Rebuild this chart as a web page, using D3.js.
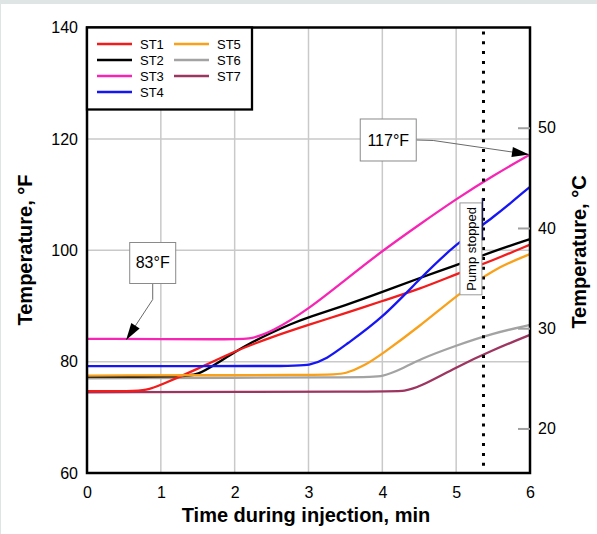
<!DOCTYPE html>
<html>
<head>
<meta charset="utf-8">
<script src="https://cdn.jsdelivr.net/npm/d3@7"></script>
<style>
  html, body { margin: 0; padding: 0; background: #dfe5e5; }
  svg { display: block; font-family: "Liberation Sans", Arial, sans-serif; }
</style>
</head>
<body>
<div id="my_dataviz"></div>
<script>
(function() {

const width = 597,
height = 534;

// temperatures in °F vs time in min
const st1 = [[0,74.7],[0.6,74.7],[0.8,74.8],[1,75.8],[1.5,78.7],[2,81.9],[2.5,84.4],[3,86.6],[3.5,88.7],[4,90.9],[4.5,93.0],[5,95.7],[5.5,98.2],[6,101.0]];
const st2 = [[0,77.3],[1.3,77.3],[1.5,77.6],[1.75,79.6],[2,81.7],[2.25,83.6],[2.5,85.2],[2.75,86.7],[3,88.0],[3.5,90.1],[4,92.5],[4.5,95.0],[5,97.3],[5.5,99.8],[6,102.0]];
const st3 = [[0,84.1],[2.0,84.0],[2.2,84.0],[2.5,85.3],[3,89.4],[3.5,94.7],[4,99.9],[4.5,104.6],[5,109.2],[5.5,113.4],[6,117.2]];
const st4 = [[0,79.2],[2.8,79.2],[3,79.3],[3.25,80.5],[3.5,83.0],[4,87.8],[4.5,94.8],[5,101.2],[5.5,105.8],[6,111.4]];
const st5 = [[0,77.5],[3.3,77.6],[3.5,77.8],[3.75,79.2],[4,81.4],[4.5,86.3],[5,91.8],[5.5,96.6],[6,99.3]];
const st6 = [[0,77.0],[3.8,77.2],[4,77.3],[4.25,78.6],[4.5,80.4],[5,82.9],[5.5,85.1],[6,86.6]];
const st7 = [[0,74.5],[4.1,74.6],[4.3,74.7],[4.5,75.4],[5,79.0],[5.5,82.1],[6,84.8]];

const names = ["ST1", "ST2", "ST3", "ST4", "ST5", "ST6", "ST7"];
const colors = ["#f21c1c", "#000000", "#f725b4", "#1616f5", "#f9a11b", "#a3a3a3", "#9c355f"];
const seriesData = [st1, st2, st3, st4, st5, st6, st7];
const drawOrder = [5, 1, 6, 0, 4, 3, 2];

const xTicks = [0, 1, 2, 3, 4, 5, 6];
const yTicks = [60, 80, 100, 120, 140];
const cTicks = [20, 30, 40, 50];
const pumpStop = 5.37;

const svg = d3.select("#my_dataviz")
  .append("svg")
  .attr("width", width)
  .attr("height", height);

svg.append("rect")
  .attr("x", 1).attr("y", 4)
  .attr("width", width - 1).attr("height", height - 4)
  .attr("fill", "#fff");

const x = d3.scaleLinear().domain([0, 6]).range([87, 530]);
const y = d3.scaleLinear().domain([60, 140]).range([473, 27.5]);
const yC = d3.scaleLinear().domain([(60 - 32) * 5 / 9, (140 - 32) * 5 / 9]).range([473, 27.5]);

// grid
const grid = svg.append("g").attr("stroke", "#c9c9c9").attr("stroke-width", 1.5);
grid.selectAll(".gx")
  .data([1, 2, 3, 4, 5])
  .join("line")
  .attr("x1", d => x(d)).attr("x2", d => x(d))
  .attr("y1", y(140)).attr("y2", y(60));
grid.selectAll(".gy")
  .data([80, 100, 120])
  .join("line")
  .attr("x1", x(0)).attr("x2", x(6))
  .attr("y1", d => y(d)).attr("y2", d => y(d));

// curves
const line = d3.line()
  .x(d => x(d[0]))
  .y(d => y(d[1]))
  .curve(d3.curveBasis);

svg.append("g")
  .selectAll("path")
  .data(drawOrder)
  .join("path")
  .attr("fill", "none")
  .attr("stroke", i => colors[i])
  .attr("stroke-width", 2.3)
  .attr("d", i => line(seriesData[i]));

// pump stopped marker
svg.append("line")
  .attr("x1", x(pumpStop)).attr("x2", x(pumpStop))
  .attr("y1", y(140) + 4).attr("y2", y(60))
  .attr("stroke", "#000")
  .attr("stroke-width", 3)
  .attr("stroke-dasharray", "3,6.8");

const pumpBox = svg.append("g");
pumpBox.append("rect")
  .attr("x", x(5.2) - 11).attr("y", y(108.5))
  .attr("width", 22).attr("height", y(92) - y(108.5))
  .attr("fill", "#fff")
  .attr("stroke", "#9a9a9a");
pumpBox.append("line")
  .attr("x1", x(pumpStop) - 1).attr("x2", x(pumpStop) - 1)
  .attr("y1", y(109.4)).attr("y2", y(101.8))
  .attr("stroke", "#1a1a4a").attr("stroke-width", 1.5);
pumpBox.append("text")
  .attr("transform", `translate(${x(5.2) + 5},${(y(108.5) + y(92)) / 2}) rotate(-90)`)
  .attr("text-anchor", "middle")
  .attr("font-size", 13)
  .text("Pump stopped");

// plot frame
svg.append("rect")
  .attr("x", x(0)).attr("y", y(140))
  .attr("width", x(6) - x(0)).attr("height", y(60) - y(140))
  .attr("fill", "none")
  .attr("stroke", "#000")
  .attr("stroke-width", 2.5);

// axes
const fontAxis = g => g.attr("font-family", "Liberation Sans, Arial, sans-serif").attr("font-size", 16);

svg.append("g")
  .attr("transform", `translate(${x(0)},0)`)
  .call(d3.axisLeft(y).tickValues(yTicks).tickSize(0).tickPadding(9))
  .call(fontAxis)
  .call(g => g.select(".domain").remove());

svg.append("g")
  .attr("transform", `translate(0,${y(60)})`)
  .call(d3.axisBottom(x).tickValues(xTicks).tickFormat(d3.format("d")).tickSize(0).tickPadding(14))
  .call(fontAxis)
  .call(g => g.select(".domain").remove());

svg.append("g")
  .attr("transform", `translate(${x(6)},0)`)
  .call(d3.axisRight(yC).tickValues(cTicks).tickSizeInner(-12).tickSizeOuter(0).tickPadding(8))
  .call(fontAxis)
  .call(g => g.select(".domain").remove())
  .call(g => g.selectAll(".tick line").attr("stroke", "#a0a0a0").attr("stroke-width", 2));

svg.append("text")
  .attr("x", 306).attr("y", 522)
  .attr("text-anchor", "middle")
  .attr("font-size", 20).attr("font-weight", "bold")
  .text("Time during injection, min");

svg.append("text")
  .attr("transform", "translate(32,250) rotate(-90)")
  .attr("text-anchor", "middle")
  .attr("font-size", 20).attr("font-weight", "bold")
  .text("Temperature, °F");

svg.append("text")
  .attr("transform", "translate(586,252) rotate(-90)")
  .attr("text-anchor", "middle")
  .attr("font-size", 20).attr("font-weight", "bold")
  .text("Temperature, °C");

// legend
const legend = svg.append("g");
legend.append("rect")
  .attr("x", x(0)).attr("y", y(140))
  .attr("width", 165).attr("height", 82)
  .attr("fill", "#fff")
  .attr("stroke", "#000")
  .attr("stroke-width", 2.3);

const items = legend.selectAll(".item")
  .data(names)
  .join("g")
  .attr("transform", (d, i) => `translate(${i < 4 ? 97 : 174},${44 + (i % 4) * 16})`);
items.append("line")
  .attr("x1", 0).attr("x2", 35)
  .attr("stroke", (d, i) => colors[i])
  .attr("stroke-width", 2.5);
items.append("text")
  .attr("x", 43).attr("dy", "0.36em")
  .attr("font-size", 13)
  .text(d => d);

// annotations
function arrowHead(g, from, to) {
  const a = Math.atan2(to[1] - from[1], to[0] - from[0]);
  const len = 17, w = 5;
  const bx = to[0] - len * Math.cos(a), by = to[1] - len * Math.sin(a);
  const pts = [to,
    [bx + w * Math.sin(a), by - w * Math.cos(a)],
    [bx - w * Math.sin(a), by + w * Math.cos(a)]];
  g.append("polygon").attr("points", pts.map(p => p.join(",")).join(" ")).attr("fill", "#000");
}

// 117°F
const a1 = svg.append("g");
const b1 = [x(4.08), y(119.8)];
const tip1 = [x(6) - 1, y(117.2)];
a1.append("path")
  .attr("d", `M${b1[0] + 28},${b1[1]} L${b1[0] + 45},${b1[1] + 0.5} L${tip1[0]},${tip1[1]}`)
  .attr("fill", "none").attr("stroke", "#6a6a6a");
arrowHead(a1, [b1[0] + 45, b1[1] + 0.5], tip1);
a1.append("rect")
  .attr("x", b1[0] - 28).attr("y", b1[1] - 21)
  .attr("width", 56).attr("height", 42)
  .attr("fill", "#fff").attr("stroke", "#8a8a8a");
a1.append("text")
  .attr("x", b1[0]).attr("y", b1[1]).attr("dy", "0.36em")
  .attr("text-anchor", "middle").attr("font-size", 16)
  .text("117°F");

// 83°F
const a2 = svg.append("g");
const b2 = [x(0.89), y(97.8)];
const tip2 = [x(0.53), y(83.9)];
a2.append("path")
  .attr("d", `M${b2[0]},${b2[1] + 20} L${b2[0]},${b2[1] + 37} L${tip2[0]},${tip2[1]}`)
  .attr("fill", "none").attr("stroke", "#6a6a6a");
arrowHead(a2, [b2[0], b2[1] + 37], tip2);
a2.append("rect")
  .attr("x", b2[0] - 23).attr("y", b2[1] - 20)
  .attr("width", 46).attr("height", 41)
  .attr("fill", "#fff").attr("stroke", "#8a8a8a");
a2.append("text")
  .attr("x", b2[0]).attr("y", b2[1]).attr("dy", "0.36em")
  .attr("text-anchor", "middle").attr("font-size", 16)
  .text("83°F");

})();
</script>
</body>
</html>
